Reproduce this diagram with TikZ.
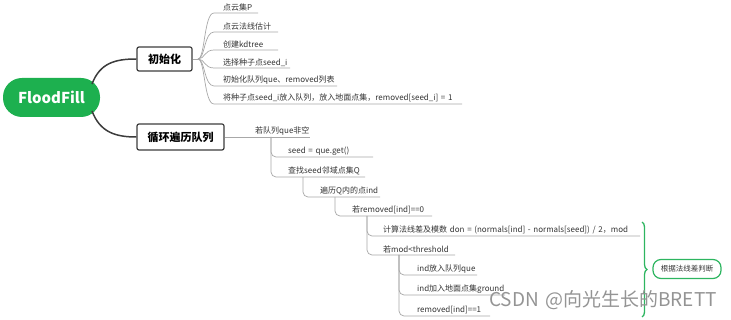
\documentclass[tikz,border=0pt]{standalone}
\usepackage{fontspec}
\setmainfont{Noto Sans CJK SC}[WordSpace=1.5]
\usetikzlibrary{decorations.pathreplacing}
\definecolor{ffgreen}{HTML}{1DB04F}
\definecolor{lgray}{HTML}{A8A8A8}
\definecolor{dgray}{HTML}{3C3C3C}
\definecolor{bgreen}{HTML}{2DB560}
\definecolor{txt}{HTML}{333333}
\newcommand\mmleaf[6]{% name, startx, textx, uy, endx, text
  \coordinate (#1s) at (#2,#4);
  \node[leaf] (#1) at (#3,#4) {#6};
  \coordinate (#1e) at (#5,#4);}
\begin{document}
\begin{tikzpicture}[x=1pt,y=-1pt,
  root/.style={fill=ffgreen, rounded corners=19pt, minimum width=97pt, minimum height=39pt, inner sep=0pt, text=white, font=\fontsize{15}{18}\selectfont\bfseries},
  topic/.style={draw=dgray, line width=1.2pt, rounded corners=2pt, fill=white, inner sep=0pt, font=\fontsize{11}{13}\selectfont\bfseries, text=black},
  leaf/.style={anchor=south west, inner xsep=0pt, inner ysep=1.5pt, font=\fontsize{8}{9.6}\selectfont, text=txt},
  branch/.style={draw=lgray, line width=0.7pt},
  trunk/.style={draw=dgray, line width=1.5pt},
  tree/.style={branch, rounded corners=5pt},
]
\useasboundingbox (0,0) rectangle (731,320);

% root and topics
\node[root] (root) at (51.5,97.5) {FloodFill};
\node[topic, minimum width=55pt, minimum height=24pt] (init) at (164.5,59) {初始化};
\node[topic, minimum width=87pt, minimum height=26pt] (loop) at (180.5,137) {循环遍历队列};
\coordinate (rt) at (92,84);
\coordinate (rb) at (92,111);
\draw[trunk] (rt) .. controls (100,63) and (115,59) .. (init.west);
\draw[trunk] (rb) .. controls (100,132) and (115,137) .. (loop.west);

% init children
\coordinate (jn) at (198,59);
\draw[branch] (init.east) -- (jn);
\mmleaf{a1}{214}{223}{13}{258}{点云集P}
\mmleaf{a2}{214}{223}{32}{278}{点云法线估计}
\mmleaf{a3}{214}{223}{50}{278}{创建kdtree}
\mmleaf{a4}{214}{223}{68}{290}{选择种子点seed\_i}
\mmleaf{a5}{214}{223}{86}{337}{初始化队列que、removed列表}
\mmleaf{a6}{214}{223}{104}{462}{将种子点seed\_i放入队列，放入地面点集，removed[seed\_i] = 1}
\foreach \n/\y in {a1/13,a2/32,a3/50,a4/68,a5/86,a6/104}{
  \draw[branch] (jn) .. controls (205,59) and (204,\y) .. (\n s) -- (\n e);
}

% loop tree
\mmleaf{b0}{224}{255}{137}{310}{若队列que非空}
\draw[branch] (loop.east) -- (b0e);
\coordinate (v1) at (271,137);
\mmleaf{b1}{271}{288}{157}{373}{seed = que.get()}
\mmleaf{b2}{271}{288}{177}{365}{查找seed邻域点集Q}
\draw[tree] (v1) |- (b1e);
\draw[tree] (v1) |- (b2e);
\coordinate (v2) at (303,177);
\mmleaf{b3}{303}{320}{197}{380}{遍历Q内的点ind}
\draw[tree] (v2) |- (b3e);
\coordinate (v3) at (335,197);
\mmleaf{b4}{335}{352}{216}{432}{若removed[ind]==0}
\draw[tree] (v3) |- (b4e);
\coordinate (v4) at (367,216);
\mmleaf{b5}{367}{383}{236}{640}{计算法线差及模数 don = (normals[ind] - normals[seed]) / 2，mod}
\mmleaf{b6}{367}{383}{255}{455}{若mod<threshold}
\draw[tree] (v4) |- (b5e);
\draw[tree] (v4) |- (b6e);
\coordinate (v5) at (399,255);
\mmleaf{b7}{399}{417}{275}{477}{ind放入队列que}
\mmleaf{b8}{399}{417}{295}{505}{ind加入地面点集ground}
\mmleaf{b9}{399}{417}{316}{490}{removed[ind]==1}
\draw[tree] (v5) |- (b7e);
\draw[tree] (v5) |- (b8e);
\draw[tree] (v5) |- (b9e);

% brace and summary
\coordinate (bt) at (642,222);
\coordinate (bb) at (642,317);
\draw[bgreen, line width=1.3pt, decorate, decoration={brace, amplitude=5pt}] (bt) -- (bb);
\node[draw=bgreen, line width=1.2pt, rounded corners=8pt, minimum width=68pt, minimum height=19pt, inner sep=0pt, font=\fontsize{7.5}{9}\selectfont, text=txt] (sum) at (687,269) {根据法线差判断};

% watermark
\node[anchor=west, inner sep=0pt, text=black!42, font=\fontsize{19}{22}\selectfont] (wm) at (489,300) {CSDN @向光生长的BRETT};
\end{tikzpicture}
\end{document}
